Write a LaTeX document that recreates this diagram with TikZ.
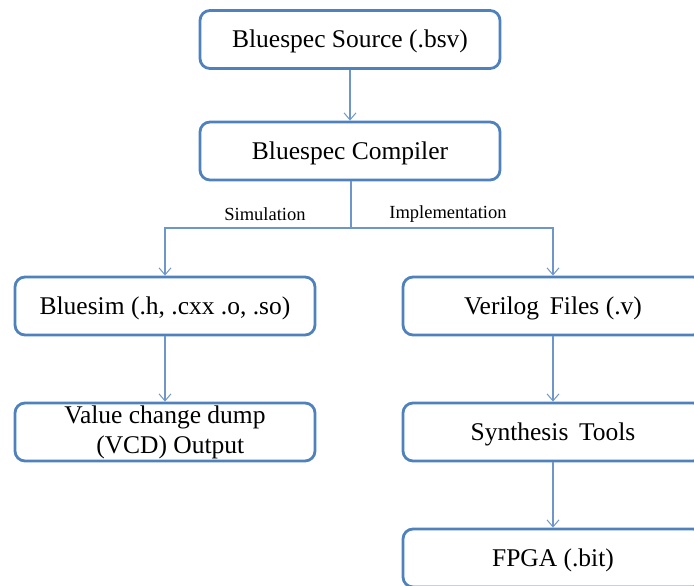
\documentclass[tikz,border=0pt]{standalone}
\usepackage{fontspec}
\setmainfont{Liberation Serif}
\usetikzlibrary{arrows.meta}
\definecolor{boxblue}{RGB}{79,129,189}
\definecolor{lineblue}{RGB}{110,150,200}
\tikzset{
  box/.style={draw=boxblue, line width=2.8pt, rounded corners=10pt, fill=white,
    minimum width=300pt, minimum height=58pt, inner sep=0pt, align=center,
    font=\fontsize{25.5}{30}\selectfont, text=black},
  onebox/.style={box, text height=19pt, text depth=2pt},
  conn/.style={draw=lineblue, line width=1.1pt, -{Straight Barb[length=7pt,width=12pt,line width=1pt]}},
  plain/.style={draw=lineblue, line width=1.1pt},
  lbl/.style={font=\fontsize{18.5}{20}\selectfont, inner sep=0pt, text=black}
}
\begin{document}
\begin{tikzpicture}[x=1pt,y=-1pt]
\useasboundingbox (0,0) rectangle (694,586);
\clip (0,0) rectangle (694,586);
\node[onebox] (src) at (350,39.5) {Bluespec Source (.bsv)};
\node[onebox] (comp) at (350,151) {Bluespec Compiler};
\node[onebox] (sim) at (165,306) {Bluesim (.h, .cxx .o, .so)};
\node[onebox] (ver) at (553,306) {Verilog\, Files (.v)};
\node[box] (vcd) at (165,432) {Value change dump\\\, (VCD) Output};
\node[onebox] (syn) at (553,432) {Synthesis\, Tools};
\node[onebox] (fpga) at (553,558) {FPGA (.bit)};
\coordinate (split) at (351,228);
\draw[conn] (src) -- (comp);
\draw[plain] (comp.south -| split) -- (split);
\draw[conn] (split) -| (sim.north);
\draw[conn] (split) -| (ver.north);
\draw[conn] (sim) -- (vcd);
\draw[conn] (ver) -- (syn);
\draw[conn] (syn) -- (fpga);
\node[lbl] (simlbl) at (265,214) {Simulation};
\node[lbl] (implbl) at (448,214) {Implementation};
\end{tikzpicture}
\end{document}
